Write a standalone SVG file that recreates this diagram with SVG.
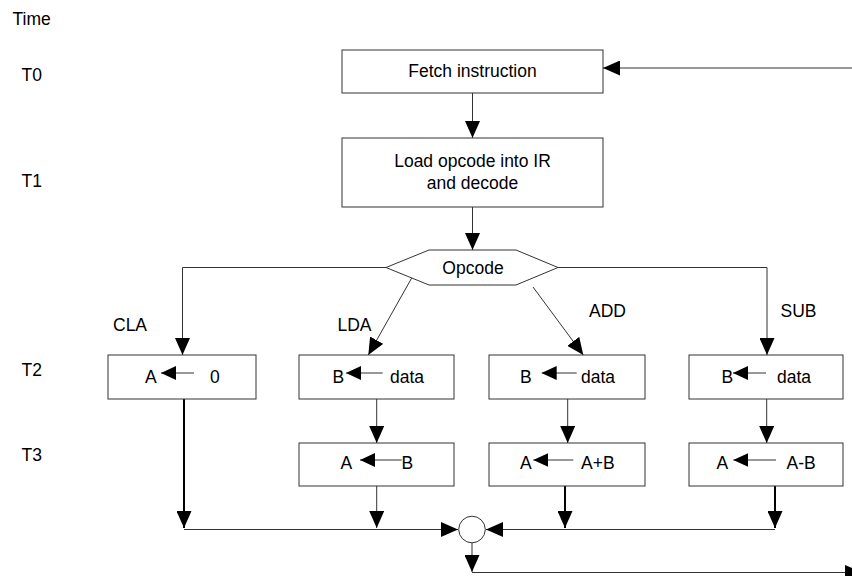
<svg xmlns="http://www.w3.org/2000/svg" width="852" height="576" viewBox="0 0 852 576">
<style>
text{font-family:"Liberation Sans",Arial,sans-serif;font-size:17.5px;fill:#000}
.box{fill:#fff;stroke:#333;stroke-width:1}
.ln{fill:none;stroke:#333;stroke-width:1}
.thk{fill:none;stroke:#000;stroke-width:2}
.mid{text-anchor:middle}
</style>
<defs>
<marker id="ah" markerUnits="userSpaceOnUse" markerWidth="17" markerHeight="15" refX="17" refY="7.5" orient="auto"><path d="M0,0 L17,7.5 L0,15 Z" fill="#000"/></marker>
<marker id="as" markerUnits="userSpaceOnUse" markerWidth="15" markerHeight="14" refX="15" refY="7" orient="auto"><path d="M0,0 L15,7 L0,14 Z" fill="#000"/></marker>
</defs>
<g id="time-labels">
<text x="12.5" y="25">Time</text>
<text x="21.5" y="81">T0</text>
<text x="21.5" y="187">T1</text>
<text x="21.5" y="376">T2</text>
<text x="21.5" y="461">T3</text>
</g>
<g id="connectors">
<line class="ln" x1="852" y1="68" x2="603" y2="68" marker-end="url(#ah)"/>
<line class="ln" x1="472.5" y1="93" x2="472.5" y2="138" marker-end="url(#ah)"/>
<line class="ln" x1="472.5" y1="207" x2="472.5" y2="250" marker-end="url(#ah)"/>
<polyline class="ln" points="386,267.5 182.5,267.5 182.5,355" marker-end="url(#ah)"/>
<line class="ln" x1="411.7" y1="278" x2="368.3" y2="355" marker-end="url(#ah)"/>
<line class="ln" x1="533" y1="287" x2="583.3" y2="355" marker-end="url(#ah)"/>
<polyline class="ln" points="558,267.5 767,267.5 767,355" marker-end="url(#ah)"/>
<line class="ln" x1="376.7" y1="399" x2="376.7" y2="443" marker-end="url(#ah)"/>
<line class="ln" x1="567.7" y1="399" x2="567.7" y2="443" marker-end="url(#ah)"/>
<line class="ln" x1="766.7" y1="399" x2="766.7" y2="443" marker-end="url(#ah)"/>
<line class="thk" x1="184" y1="399" x2="184" y2="528" marker-end="url(#ah)"/>
<line class="ln" x1="376.7" y1="486" x2="376.7" y2="528" marker-end="url(#ah)"/>
<line class="thk" x1="565" y1="486" x2="565" y2="528" marker-end="url(#ah)"/>
<line class="thk" x1="775" y1="486" x2="775" y2="528" marker-end="url(#ah)"/>
<line class="ln" x1="184" y1="529.5" x2="458" y2="529.5" marker-end="url(#ah)"/>
<line class="ln" x1="775" y1="529.5" x2="486" y2="529.5" marker-end="url(#ah)"/>
<line class="ln" x1="472" y1="543" x2="472" y2="572" marker-end="url(#ah)"/>
<line class="ln" x1="472" y1="572.5" x2="862" y2="572.5" marker-end="url(#ah)"/>
</g>
<g id="fetch">
<rect class="box" x="342" y="50" width="261" height="43"/>
<text class="mid" x="472.5" y="77">Fetch instruction</text>
</g>
<g id="load">
<rect class="box" x="342" y="138" width="261" height="69"/>
<text class="mid" x="472.5" y="167">Load opcode into IR</text>
<text class="mid" x="472.5" y="189">and decode</text>
</g>
<g id="opcode">
<polygon class="box" points="386,267.5 429,250 516,250 558,267.5 516,285 429,285"/>
<text class="mid" x="473" y="273.5">Opcode</text>
</g>
<g id="branch-labels">
<text x="113" y="331">CLA</text>
<text x="337.5" y="331">LDA</text>
<text x="589" y="317">ADD</text>
<text x="780.5" y="317">SUB</text>
</g>
<g id="cla-t2">
<rect class="box" x="108" y="355" width="148" height="44"/>
<text x="145" y="383">A</text>
<line class="ln" x1="194" y1="373" x2="161" y2="373" marker-end="url(#as)"/>
<text x="210" y="383">0</text>
</g>
<g id="lda-t2">
<rect class="box" x="299" y="355" width="155" height="44"/>
<text x="332.5" y="383">B</text>
<line class="ln" x1="382.7" y1="373" x2="346" y2="373" marker-end="url(#as)"/>
<text x="390" y="383">data</text>
</g>
<g id="add-t2">
<rect class="box" x="489" y="355" width="156" height="44"/>
<text x="520" y="383">B</text>
<line class="ln" x1="576.7" y1="373" x2="541.7" y2="373" marker-end="url(#as)"/>
<text x="581" y="383">data</text>
</g>
<g id="sub-t2">
<rect class="box" x="689" y="355" width="154" height="44"/>
<text x="721.5" y="383">B</text>
<line class="ln" x1="766" y1="373" x2="733" y2="373" marker-end="url(#as)"/>
<text x="777" y="383">data</text>
</g>
<g id="lda-t3">
<rect class="box" x="299" y="443" width="155" height="43"/>
<text x="340.5" y="469">A</text>
<line class="ln" x1="401.7" y1="460" x2="360" y2="460" marker-end="url(#as)"/>
<text x="401.5" y="469">B</text>
</g>
<g id="add-t3">
<rect class="box" x="489" y="443" width="156" height="43"/>
<text x="520" y="469">A</text>
<line class="ln" x1="573.3" y1="460" x2="533.3" y2="460" marker-end="url(#as)"/>
<text x="581" y="469">A+B</text>
</g>
<g id="sub-t3">
<rect class="box" x="689" y="443" width="154" height="43"/>
<text x="716.5" y="469">A</text>
<line class="ln" x1="776" y1="460" x2="733.3" y2="460" marker-end="url(#as)"/>
<text x="786.5" y="469">A-B</text>
</g>
<g id="join">
<circle class="box" cx="472" cy="529.5" r="13.3"/>
</g>
</svg>
